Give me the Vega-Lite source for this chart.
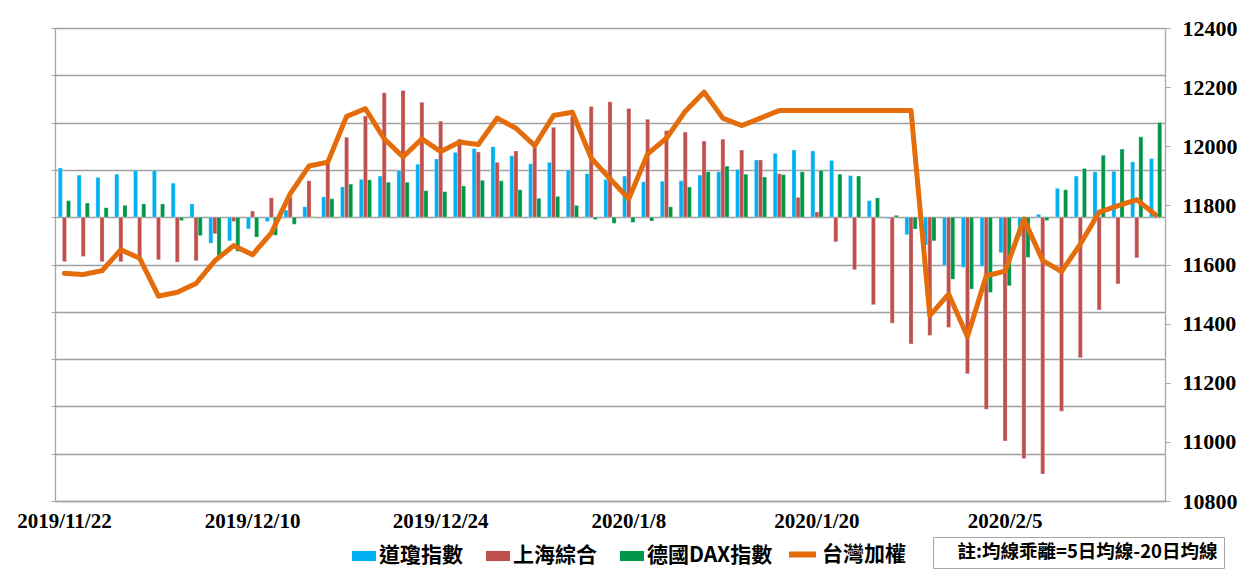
{
  "$schema": "https://vega.github.io/schema/vega-lite/v6.json",
  "width": 1110,
  "height": 473,
  "autosize": {"type": "none"},
  "padding": {"left": 55, "top": 28, "right": 78, "bottom": 68},
  "background": "white",
  "config": {"view": {"stroke": null}},
  "data": {"values": [
    {"d": "2019/11/22", "道瓊指數": 104, "上海綜合": -94, "德國DAX指數": 35, "tw": 11570},
    {"d": "2019/11/25", "道瓊指數": 89, "上海綜合": -83, "德國DAX指數": 30, "tw": 11566},
    {"d": "2019/11/26", "道瓊指數": 84, "上海綜合": -94, "德國DAX指數": 20, "tw": 11579},
    {"d": "2019/11/27", "道瓊指數": 91, "上海綜合": -94, "德國DAX指數": 25, "tw": 11650},
    {"d": "2019/11/29", "道瓊指數": 99, "上海綜合": -87, "德國DAX指數": 28, "tw": 11621},
    {"d": "2019/12/2", "道瓊指數": 99, "上海綜合": -90, "德國DAX指數": 28, "tw": 11493},
    {"d": "2019/12/3", "道瓊指數": 72, "上海綜合": -95, "德國DAX指數": -7, "tw": 11506},
    {"d": "2019/12/4", "道瓊指數": 28, "上海綜合": -92, "德國DAX指數": -39, "tw": 11536},
    {"d": "2019/12/5", "道瓊指數": -55, "上海綜合": -35, "德國DAX指數": -83, "tw": 11613},
    {"d": "2019/12/6", "道瓊指數": -50, "上海綜合": -9, "德國DAX指數": -72, "tw": 11664},
    {"d": "2019/12/10", "道瓊指數": -25, "上海綜合": 13, "德國DAX指數": -42, "tw": 11633},
    {"d": "2019/12/11", "道瓊指數": -9, "上海綜合": 41, "德國DAX指數": -38, "tw": 11707},
    {"d": "2019/12/12", "道瓊指數": 15, "上海綜合": 42, "德國DAX指數": -15, "tw": 11839},
    {"d": "2019/12/13", "道瓊指數": 22, "上海綜合": 77, "德國DAX指數": 1, "tw": 11933},
    {"d": "2019/12/16", "道瓊指數": 43, "上海綜合": 114, "德國DAX指數": 39, "tw": 11946},
    {"d": "2019/12/17", "道瓊指數": 64, "上海綜合": 169, "德國DAX指數": 70, "tw": 12101},
    {"d": "2019/12/18", "道瓊指數": 80, "上海綜合": 214, "德國DAX指數": 79, "tw": 12127},
    {"d": "2019/12/19", "道瓊指數": 87, "上海綜合": 263, "德國DAX指數": 74, "tw": 12025},
    {"d": "2019/12/20", "道瓊指數": 99, "上海綜合": 268, "德國DAX指數": 74, "tw": 11964},
    {"d": "2019/12/23", "道瓊指數": 112, "上海綜合": 243, "德國DAX指數": 56, "tw": 12025},
    {"d": "2019/12/24", "道瓊指數": 123, "上海綜合": 203, "德國DAX指數": 54, "tw": 11982},
    {"d": "2019/12/25", "道瓊指數": 137, "上海綜合": 165, "德國DAX指數": 66, "tw": 12014},
    {"d": "2019/12/26", "道瓊指數": 145, "上海綜合": 138, "德國DAX指數": 78, "tw": 12006},
    {"d": "2019/12/27", "道瓊指數": 149, "上海綜合": 116, "德國DAX指數": 77, "tw": 12095},
    {"d": "2019/12/30", "道瓊指數": 130, "上海綜合": 140, "德國DAX指數": 58, "tw": 12061},
    {"d": "2019/12/31", "道瓊指數": 113, "上海綜合": 148, "德國DAX指數": 40, "tw": 12002},
    {"d": "2020/1/2", "道瓊指數": 116, "上海綜合": 190, "德國DAX指數": 44, "tw": 12104},
    {"d": "2020/1/3", "道瓊指數": 100, "上海綜合": 213, "德國DAX指數": 25, "tw": 12115},
    {"d": "2020/1/6", "道瓊指數": 92, "上海綜合": 234, "德國DAX指數": -5, "tw": 11960},
    {"d": "2020/1/7", "道瓊指數": 80, "上海綜合": 244, "德國DAX指數": -13, "tw": 11890},
    {"d": "2020/1/8", "道瓊指數": 87, "上海綜合": 230, "德國DAX指數": -11, "tw": 11822},
    {"d": "2020/1/9", "道瓊指數": 75, "上海綜合": 207, "德國DAX指數": -8, "tw": 11974},
    {"d": "2020/1/10", "道瓊指數": 76, "上海綜合": 183, "德國DAX指數": 22, "tw": 12027},
    {"d": "2020/1/11", "道瓊指數": 77, "上海綜合": 180, "德國DAX指數": 64, "tw": 12118},
    {"d": "2020/1/13", "道瓊指數": 89, "上海綜合": 161, "德國DAX指數": 96, "tw": 12183},
    {"d": "2020/1/14", "道瓊指數": 96, "上海綜合": 165, "德國DAX指數": 108, "tw": 12095},
    {"d": "2020/1/15", "道瓊指數": 101, "上海綜合": 142, "德國DAX指數": 91, "tw": 12070},
    {"d": "2020/1/16", "道瓊指數": 121, "上海綜合": 121, "德國DAX指數": 85, "tw": 12095},
    {"d": "2020/1/17", "道瓊指數": 135, "上海綜合": 92, "德國DAX指數": 90, "tw": 12121},
    {"d": "2020/1/18", "道瓊指數": 142, "上海綜合": 42, "德國DAX指數": 96, "tw": 12121},
    {"d": "2020/1/20", "道瓊指數": 140, "上海綜合": 11, "德國DAX指數": 99, "tw": 12121},
    {"d": "2020/1/21", "道瓊指數": 120, "上海綜合": -52, "德國DAX指數": 91, "tw": 12121},
    {"d": "2020/1/22", "道瓊指數": 88, "上海綜合": -111, "德國DAX指數": 87, "tw": 12121},
    {"d": "2020/1/23", "道瓊指數": 35, "上海綜合": -185, "德國DAX指數": 41, "tw": 12121},
    {"d": "2020/1/24", "道瓊指數": -3, "上海綜合": -224, "德國DAX指數": 4, "tw": 12121},
    {"d": "2020/1/28", "道瓊指數": -37, "上海綜合": -268, "德國DAX指數": -25, "tw": 12121},
    {"d": "2020/1/30", "道瓊指數": -59, "上海綜合": -250, "德國DAX指數": -50, "tw": 11427},
    {"d": "2020/1/31", "道瓊指數": -102, "上海綜合": -233, "德國DAX指數": -131, "tw": 11500},
    {"d": "2020/2/3", "道瓊指數": -106, "上海綜合": -331, "德國DAX指數": -152, "tw": 11356},
    {"d": "2020/2/4", "道瓊指數": -104, "上海綜合": -406, "德國DAX指數": -159, "tw": 11562},
    {"d": "2020/2/5", "道瓊指數": -75, "上海綜合": -473, "德國DAX指數": -145, "tw": 11577},
    {"d": "2020/2/6", "道瓊指數": -41, "上海綜合": -510, "德國DAX指數": -85, "tw": 11754},
    {"d": "2020/2/7", "道瓊指數": 6, "上海綜合": -543, "德國DAX指數": -7, "tw": 11613},
    {"d": "2020/2/10", "道瓊指數": 61, "上海綜合": -410, "德國DAX指數": 58, "tw": 11576},
    {"d": "2020/2/11", "道瓊指數": 87, "上海綜合": -297, "德國DAX指數": 103, "tw": 11669},
    {"d": "2020/2/12", "道瓊指數": 96, "上海綜合": -196, "德國DAX指數": 131, "tw": 11777},
    {"d": "2020/2/13", "道瓊指數": 97, "上海綜合": -141, "德國DAX指數": 144, "tw": 11799},
    {"d": "2020/2/14", "道瓊指數": 117, "上海綜合": -86, "德國DAX指數": 170, "tw": 11819},
    {"d": "2020/2/17", "道瓊指數": 124, "上海綜合": -2, "德國DAX指數": 200, "tw": 11768}
  ]},
  "encoding": {
    "x": {
      "field": "d", "type": "ordinal", "sort": null,
      "scale": {"paddingInner": 0.346, "paddingOuter": 0.173},
      "axis": {
        "title": null,
        "values": ["2019/11/22", "2019/12/10", "2019/12/24", "2020/1/8", "2020/1/20", "2020/2/5"],
        "labelAngle": 0, "ticks": false, "grid": false,
        "domainColor": "#A6A6A6", "domainWidth": 1.3,
        "labelFont": "Liberation Serif", "labelFontSize": 21, "labelFontWeight": "bold",
        "labelColor": "#000000", "labelPadding": 9
      }
    }
  },
  "layer": [
    {
      "transform": [{"fold": ["道瓊指數", "上海綜合", "德國DAX指數"], "as": ["series", "v"]}],
      "mark": {"type": "bar", "stroke": "white", "strokeWidth": 0.3},
      "encoding": {
        "xOffset": {"field": "series", "type": "nominal", "scale": {"domain": ["道瓊指數", "上海綜合", "德國DAX指數"], "paddingInner": 0, "paddingOuter": 0}},
        "y": {
          "field": "v", "type": "quantitative",
          "scale": {"domain": [-600, 400], "nice": false, "zero": false},
          "axis": {
            "orient": "left", "title": null, "labels": false,
            "values": [-600, -500, -400, -300, -200, -100, 0, 100, 200, 300, 400],
            "ticks": true, "tickSize": 4, "tickColor": "#A6A6A6",
            "domainColor": "#A6A6A6", "domainWidth": 1.3,
            "grid": true, "gridColor": "#A0A0A0", "gridWidth": 1.3
          }
        },
        "color": {
          "field": "series", "type": "nominal",
          "scale": {"domain": ["道瓊指數", "上海綜合", "德國DAX指數"], "range": ["#00B0F0", "#C0504D", "#00964A"]},
          "legend": {
            "title": null, "orient": "none", "direction": "horizontal",
            "legendX": 297, "legendY": 516, "padding": 0,
            "symbolType": "M-1,-0.42L1,-0.42L1,0.42L-1,0.42Z", "symbolSize": 576,
            "symbolStrokeWidth": 0, "symbolOpacity": 1,
            "labelFont": "Noto Sans CJK TC", "labelFontSize": 21, "labelFontWeight": "bold",
            "labelColor": "#000000", "labelOffset": 3, "columnPadding": 23, "labelLimit": 300
          }
        }
      }
    },
    {
      "mark": {"type": "line", "strokeWidth": 5, "strokeJoin": "round", "strokeCap": "round"},
      "encoding": {
        "y": {
          "field": "tw", "type": "quantitative",
          "scale": {"domain": [10800, 12400], "nice": false, "zero": false},
          "axis": {
            "orient": "right", "title": null, "format": "d",
            "values": [10800, 11000, 11200, 11400, 11600, 11800, 12000, 12200, 12400],
            "grid": false, "ticks": true, "tickSize": 5, "tickColor": "#A6A6A6",
            "domainColor": "#A6A6A6", "domainWidth": 1.3,
            "labelFont": "Liberation Serif", "labelFontSize": 22, "labelFontWeight": "bold",
            "labelColor": "#000000", "labelPadding": 12
          }
        },
        "stroke": {
          "datum": "台灣加權",
          "scale": {"range": ["#E46C0A"]},
          "legend": {
            "title": null, "orient": "none", "legendX": 731, "legendY": 510, "padding": 0,
            "symbolType": "stroke", "symbolSize": 729, "symbolStrokeWidth": 6,
            "labelFont": "Noto Sans CJK TC", "labelFontSize": 21, "labelFontWeight": "bold",
            "labelColor": "#000000", "labelOffset": 3
          }
        },
        "strokeDash": {
          "datum": "註:均線乖離=5日均線-20日均線",
          "legend": {
            "title": null, "orient": "none", "legendX": 878, "legendY": 509, "padding": 6,
            "strokeColor": "#A6A6A6",
            "symbolSize": 0, "symbolStrokeWidth": 0, "symbolOpacity": 0,
            "labelFont": "Noto Sans CJK TC", "labelFontSize": 18.5, "labelFontWeight": "bold",
            "labelColor": "#000000", "labelOffset": 0, "labelLimit": 400
          }
        }
      }
    }
  ],
  "resolve": {"scale": {"y": "independent"}}
}
